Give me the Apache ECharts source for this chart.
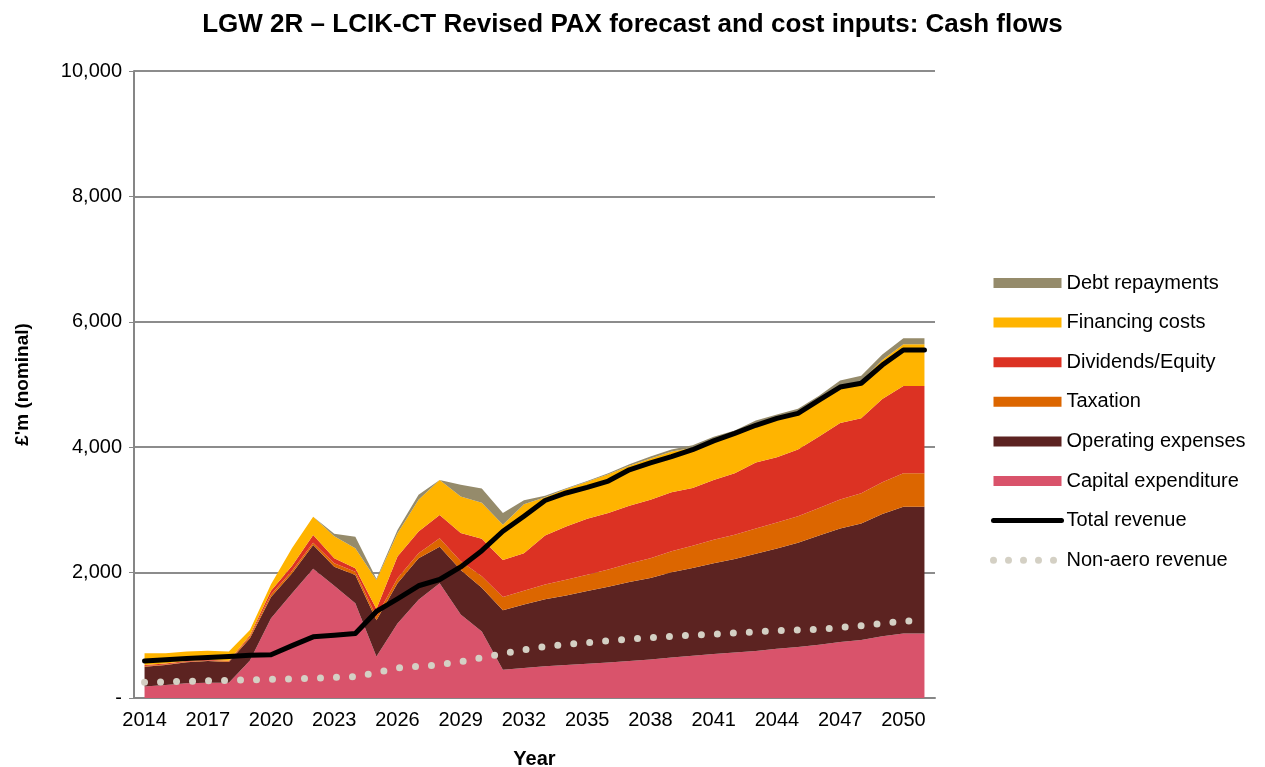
<!DOCTYPE html>
<html>
<head>
<meta charset="utf-8">
<script src="https://cdn.jsdelivr.net/npm/echarts@6/dist/echarts.min.js"></script>
<style>
  html, body { margin: 0; padding: 0; background: #fff; }
  #chart { width: 1265px; height: 767px; }
</style>
</head>
<body>
<div id="chart"></div>
<script>
// years 2014..2051
const years = [];
for (let y = 2014; y <= 2051; y++) years.push(String(y));

// £m nominal
const capex = [185, 207, 234, 244, 245, 600, 1270, 1670, 2060, 1790, 1510, 660, 1190, 1565, 1830, 1330, 1060, 450, 480, 505, 525, 545, 565, 590, 615, 645, 675, 700, 725, 750, 785, 815, 850, 895, 925, 985, 1030, 1030];
const opex = [315, 319, 335, 346, 330, 352, 340, 320, 380, 304, 452, 580, 640, 665, 584, 710, 700, 950, 1010, 1070, 1110, 1160, 1210, 1260, 1300, 1360, 1400, 1450, 1490, 1550, 1600, 1660, 1740, 1810, 1860, 1950, 2020, 2020];
const taxation = [10, 10, 11, 10, 10, 28, 40, 41, 37, 54, 53, 60, 80, 80, 134, 140, 180, 212, 220, 235, 250, 262, 275, 295, 315, 335, 355, 375, 390, 405, 415, 425, 440, 460, 480, 505, 533, 533];
const dividends = [15, 14, 10, 10, 10, 20, 60, 80, 123, 80, 54, 120, 345, 345, 372, 450, 600, 590, 600, 780, 850, 890, 900, 920, 930, 940, 920, 950, 980, 1050, 1040, 1063, 1140, 1220, 1196, 1330, 1393, 1393];
const financing = [188, 165, 150, 145, 145, 85, 105, 280, 292, 352, 321, 462, 373, 505, 558, 585, 575, 560, 780, 610, 600, 590, 620, 640, 660, 650, 640, 640, 620, 600, 610, 580, 580, 600, 590, 620, 665, 665];
const debt = [0, 0, 0, 0, 0, 0, 0, 0, 0, 40, 183, 18, 53, 80, 0, 185, 225, 190, 64, 26, 10, 13, 16, 24, 31, 34, 40, 50, 60, 70, 70, 70, 70, 80, 90, 90, 97, 97];
const totalRevenue = [590, 610, 630, 645, 660, 680, 690, 835, 975, 1000, 1030, 1380, 1580, 1790, 1890, 2090, 2350, 2660, 2900, 3150, 3270, 3360, 3460, 3640, 3750, 3850, 3960, 4100, 4220, 4350, 4460, 4540, 4750, 4960, 5020, 5310, 5550, 5550];
const nonAero = [250, 258, 266, 274, 282, 290, 298, 306, 314, 330, 340, 405, 480, 505, 530, 580, 645, 705, 770, 820, 855, 880, 912, 940, 962, 985, 1000, 1018, 1037, 1055, 1074, 1085, 1096, 1125, 1153, 1190, 1223, 1240];

const font = "'Liberation Sans', Arial, sans-serif";
const dotColor = "#d4d0c4";

const chart = echarts.init(document.getElementById("chart"));

function areaSeries(name, data, color) {
  return {
    name: name,
    type: "line",
    stack: "cost",
    data: data,
    symbol: "none",
    lineStyle: { width: 0 },
    areaStyle: { color: color, opacity: 1 },
    itemStyle: { color: color },
  };
}

const option = {
  animation: false,
  backgroundColor: "#ffffff",
  title: {
    text: "LGW 2R \u2013 LCIK-CT Revised PAX forecast and cost inputs: Cash flows",
    left: "center",
    top: 7,
    textStyle: { fontFamily: font, fontSize: 26, fontWeight: "bold", color: "#000" },
  },
  legend: {
    orient: "vertical",
    left: 985,
    top: 268,
    itemWidth: 68,
    itemHeight: 10,
    itemGap: 19.6,
    textStyle: { fontFamily: font, fontSize: 20, color: "#000" },
    data: [
      { name: "Debt repayments", icon: "rect" },
      { name: "Financing costs", icon: "rect" },
      { name: "Dividends/Equity", icon: "rect" },
      { name: "Taxation", icon: "rect" },
      { name: "Operating expenses", icon: "rect" },
      { name: "Capital expenditure", icon: "rect" },
      {
        name: "Total revenue",
        itemStyle: { opacity: 0 },
        lineStyle: { width: 5, color: "#000", cap: "round" },
      },
      {
        name: "Non-aero revenue",
        itemStyle: { opacity: 0 },
        lineStyle: { width: 7, color: dotColor, type: [0, 15], cap: "round" },
      },
    ],
  },
  grid: { left: 134, right: 330, top: 71, bottom: 69, outerBoundsMode: "none" },
  xAxis: {
    type: "category",
    data: years,
    boundaryGap: true,
    name: "Year",
    nameLocation: "middle",
    nameGap: 51,
    nameTextStyle: { fontFamily: font, fontSize: 20, fontWeight: "bold", color: "#000" },
    axisLine: { lineStyle: { color: "#868686", width: 2 } },
    axisTick: { interval: 0, length: 5, lineStyle: { color: "#868686", width: 1 } },
    axisLabel: { interval: 2, fontFamily: font, fontSize: 20, color: "#000", margin: 12 },
  },
  yAxis: {
    type: "value",
    min: 0,
    max: 10000,
    interval: 2000,
    name: "\u00a3'm (nominal)",
    nameLocation: "middle",
    nameGap: 102,
    nameTextStyle: { fontFamily: font, fontSize: 19, fontWeight: "bold", color: "#000" },
    axisLine: { show: true, lineStyle: { color: "#868686", width: 2 } },
    axisTick: { show: true, length: 5, lineStyle: { color: "#868686" } },
    splitLine: { lineStyle: { color: "#8c8c8c", width: 2 } },
    axisLabel: {
      fontFamily: font,
      fontSize: 20,
      color: "#000",
      margin: 12,
      formatter: (v) => (v === 0 ? "-" : v.toLocaleString("en-GB")),
    },
  },
  series: [
    areaSeries("Capital expenditure", capex, "#d9536b"),
    areaSeries("Operating expenses", opex, "#5c2321"),
    areaSeries("Taxation", taxation, "#dc6600"),
    areaSeries("Dividends/Equity", dividends, "#dc3223"),
    areaSeries("Financing costs", financing, "#ffb400"),
    areaSeries("Debt repayments", debt, "#958b6b"),
    {
      name: "Total revenue",
      type: "line",
      data: totalRevenue,
      symbol: "none",
      lineStyle: { color: "#000", width: 5, join: "round", cap: "round" },
      itemStyle: { color: "#000" },
      z: 5,
    },
    {
      name: "Non-aero revenue",
      type: "line",
      data: nonAero,
      symbol: "none",
      lineStyle: { color: dotColor, width: 7, type: [0, 16], cap: "round" },
      itemStyle: { color: dotColor },
      z: 4,
    },
  ],
};

chart.setOption(option);
</script>
</body>
</html>
